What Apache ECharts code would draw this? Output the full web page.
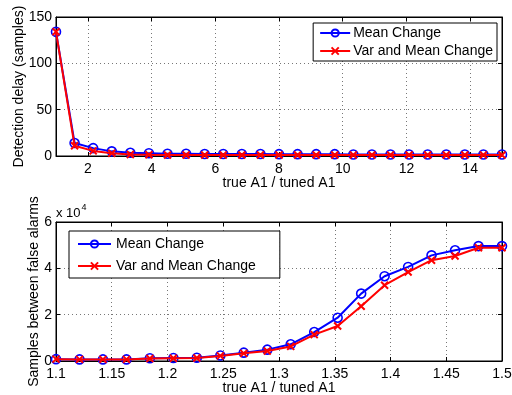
<!DOCTYPE html>
<html><head><meta charset="utf-8">
<script src="https://cdn.jsdelivr.net/npm/echarts@6/dist/echarts.min.js"></script>
<style>html,body{margin:0;padding:0;background:#fff}#c{width:512px;height:395px}</style>
</head><body><div id="c"></div>
<script>
// ---- data ----
const topX = [1, 1.5833, 2.1667, 2.75, 3.3333, 3.9167, 4.5, 5.0833, 5.6667, 6.25, 6.8333, 7.4167, 8, 8.5833, 9.1667, 9.75, 10.3333, 10.9167, 11.5, 12.0833, 12.6667, 13.25, 13.8333, 14.4167, 15];
const topMean = [134, 14, 8.5, 5, 3.5, 3, 2.5, 2.5, 2.2, 2.2, 2.2, 2.2, 2, 2, 2, 2, 1.6, 1.6, 1.6, 1.6, 1.6, 1.6, 1.6, 1.6, 1.6];
const topVarMean = [134, 11, 5.5, 3, 1.6, 1.3, 1.1, 1.1, 1, 1, 1, 1, 1, 1, 1, 1, 1, 1, 1, 1, 1, 1, 1, 1, 1];
const topXTicks = [2, 4, 6, 8, 10, 12, 14];
const topYTicks = [0, 50, 100, 150];

const botX = [1.1, 1.1211, 1.1421, 1.1632, 1.1842, 1.2053, 1.2263, 1.2474, 1.2684, 1.2895, 1.3105, 1.3316, 1.3526, 1.3737, 1.3947, 1.4158, 1.4368, 1.4579, 1.4789, 1.5];
const botMean = [800, 700, 700, 700, 1200, 1300, 1400, 2400, 3600, 4900, 7200, 12500, 18700, 29100, 36600, 40600, 45600, 47800, 49600, 49600];
const botVarMean = [800, 700, 700, 700, 1100, 1200, 1300, 2200, 3300, 4300, 6300, 11400, 15100, 23600, 32700, 38400, 43500, 45300, 48900, 48900];
const botXTicks = [1.1, 1.15, 1.2, 1.25, 1.3, 1.35, 1.4, 1.45, 1.5];
const botYTicks = [0, 20000, 40000, 60000];

const seriesNames = ['Mean Change', 'Var and Mean Change'];
const xLabel = 'true A1 / tuned A1';
const topYLabel = 'Detection delay (samples)';
const botYLabel = 'Samples between false alarms';

// ---- chart ----
const FONT = 'Liberation Sans, Arial, Helvetica, sans-serif';
const zip = (xs, ys) => xs.map((x, i) => [x, ys[i]]);
const chart = echarts.init(document.getElementById('c'), null, {renderer: 'canvas'});
const BLUE = '#0000ff', RED = '#ff0000';
const xMark = 'path://M0,0L10,10M10,0L0,10';

function xAxisDef(gridIndex, min, max, ticks, fmt, name, pos, showLbl) {
  return {
    type: 'value', gridIndex, min, max, position: pos,
    name: showLbl ? name : '', nameLocation: 'middle', nameGap: 20, nameMoveOverlap: false,
    nameTextStyle: {color: '#000', fontSize: 14, fontFamily: FONT},
    axisLine: {show: true, onZero: false, lineStyle: {color: '#000', width: 1}},
    axisTick: {show: true, inside: true, length: 4, customValues: ticks, lineStyle: {color: '#000'}},
    axisLabel: {show: showLbl, customValues: ticks, margin: 6, color: '#000', fontSize: 14, fontFamily: FONT, formatter: fmt},
    splitLine: {show: showLbl, lineStyle: {color: '#777', type: [1, 3], width: 1}}
  };
}
function yAxisDef(gridIndex, min, max, ticks, fmt, name, nameGap, pos, showLbl) {
  return {
    type: 'value', gridIndex, min, max, position: pos,
    name: showLbl ? name : '', nameLocation: 'middle', nameGap, nameMoveOverlap: false,
    nameTextStyle: {color: '#000', fontSize: 14, fontFamily: FONT},
    axisLine: {show: true, onZero: false, lineStyle: {color: '#000', width: 1}},
    axisTick: {show: true, inside: true, length: 4, customValues: ticks, lineStyle: {color: '#000'}},
    axisLabel: {show: showLbl, customValues: ticks, margin: 4, color: '#000', fontSize: 14, fontFamily: FONT, formatter: fmt},
    splitLine: {show: showLbl, lineStyle: {color: '#777', type: [1, 3], width: 1}}
  };
}
function series(name, xi, yi, data, color, isX) {
  return {
    name, type: 'line', xAxisIndex: xi, yAxisIndex: yi, data,
    lineStyle: {color, width: 2}, symbol: isX ? xMark : 'circle',
    symbolSize: isX ? 7 : 9, showSymbol: true, animation: false,
    itemStyle: isX ? {color: color, borderColor: color, borderWidth: 2} : {color: 'rgba(0,0,0,0)', borderColor: color, borderWidth: 1.6},
    emphasis: {disabled: true}, z: isX ? 3 : 2
  };
}

const option = {
  animation: false,
  backgroundColor: '#fff',
  textStyle: {fontFamily: FONT},
  grid: [
    {left: 56, top: 17, right: 10, height: 139, outerBoundsMode: 'none', show: true, borderColor: '#000', borderWidth: 1, backgroundColor: '#fff'},
    {left: 56, top: 222, right: 10, height: 139, outerBoundsMode: 'none', show: true, borderColor: '#000', borderWidth: 1, backgroundColor: '#fff'}
  ],
  xAxis: [
    xAxisDef(0, 1, 15, topXTicks, v => String(v), xLabel, 'bottom', true),
    xAxisDef(0, 1, 15, topXTicks, v => String(v), xLabel, 'top', false),
    xAxisDef(1, 1.1, 1.5, botXTicks, v => String(Math.round(v * 100) / 100), xLabel, 'bottom', true),
    xAxisDef(1, 1.1, 1.5, botXTicks, v => String(Math.round(v * 100) / 100), xLabel, 'top', false)
  ],
  yAxis: [
    yAxisDef(0, 0, 150, topYTicks, v => String(v), topYLabel, 30, 'left', true),
    yAxisDef(0, 0, 150, topYTicks, v => String(v), topYLabel, 30, 'right', false),
    yAxisDef(1, 0, 60000, botYTicks, v => String(v / 10000), botYLabel, 15, 'left', true),
    yAxisDef(1, 0, 60000, botYTicks, v => String(v / 10000), botYLabel, 15, 'right', false)
  ],
  legend: [
    {
      data: seriesNames.map(n => ({name: n})), orient: 'vertical', right: 15, top: 23,
      itemWidth: 30, itemHeight: 9, itemGap: 4,
      backgroundColor: '#fff', borderColor: '#000', borderWidth: 1, padding: [3, 4, 3, 6],
      textStyle: {color: '#000', fontSize: 14, fontFamily: FONT, padding: [0, 0, 0, -2]},
      selectedMode: false
    },
    {
      data: seriesNames.map(n => ({name: n})), orient: 'vertical', left: 69, top: 231,
      itemWidth: 33, itemHeight: 9, itemGap: 8,
      backgroundColor: '#fff', borderColor: '#000', borderWidth: 1, padding: [6, 24, 5, 8],
      textStyle: {color: '#000', fontSize: 14, fontFamily: FONT},
      selectedMode: false
    }
  ],
  graphic: [{
    type: 'text', left: 56, top: 203,
    style: {
      text: '{a|x 10}{b|4}',
      rich: {
        a: {fontSize: 13, fontFamily: FONT, fill: '#000', verticalAlign: 'bottom'},
        b: {fontSize: 9, fontFamily: FONT, fill: '#000', verticalAlign: 'top', padding: [0, 0, 8, 1]}
      }
    }
  }],
  series: [
    series(seriesNames[0], 0, 0, zip(topX, topMean), BLUE, false),
    series(seriesNames[1], 0, 0, zip(topX, topVarMean), RED, true),
    series(seriesNames[0], 2, 2, zip(botX, botMean), BLUE, false),
    series(seriesNames[1], 2, 2, zip(botX, botVarMean), RED, true)
  ]
};
chart.setOption(option);
</script></body></html>
